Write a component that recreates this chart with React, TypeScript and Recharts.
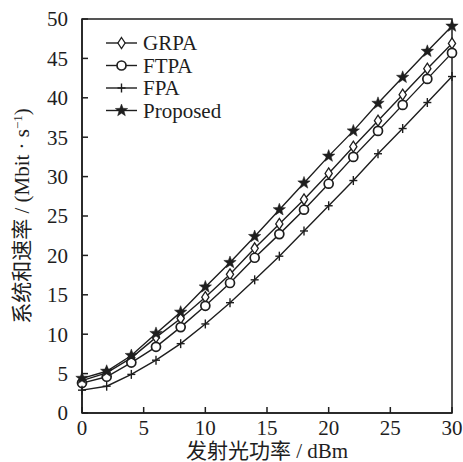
import React from 'react';
import { LineChart, Line, XAxis, YAxis, ReferenceArea, Legend } from 'recharts';

const powerDbm = [0, 2, 4, 6, 8, 10, 12, 14, 16, 18, 20, 22, 24, 26, 28, 30];
const grpa = [4.1, 5.1, 7.0, 9.6, 12.0, 14.7, 17.6, 20.9, 24.0, 27.1, 30.4, 33.8, 37.1, 40.4, 43.7, 46.9];
const ftpa = [3.8, 4.6, 6.4, 8.4, 10.9, 13.6, 16.5, 19.7, 22.7, 25.8, 29.1, 32.5, 35.8, 39.1, 42.4, 45.7];
const fpa = [2.9, 3.4, 4.9, 6.7, 8.8, 11.3, 14.0, 16.9, 19.9, 23.1, 26.3, 29.5, 32.9, 36.1, 39.4, 42.7];
const proposed = [4.4, 5.3, 7.3, 10.1, 12.8, 16.0, 19.1, 22.4, 25.8, 29.2, 32.6, 35.8, 39.3, 42.6, 45.9, 49.1];

const xTicks = [0, 5, 10, 15, 20, 25, 30];
const yTicks = [0, 5, 10, 15, 20, 25, 30, 35, 40, 45, 50];
const seriesNames = ['GRPA', 'FTPA', 'FPA', 'Proposed'];

const data = powerDbm.map((p, i) => ({
  p,
  GRPA: grpa[i],
  FTPA: ftpa[i],
  FPA: fpa[i],
  Proposed: proposed[i],
}));

const INK = '#1e1e1e';
const SERIF = '"Liberation Serif", "Noto Sans CJK SC", serif';

function Marker({ kind, cx, cy }: { kind: string; cx: number; cy: number }) {
  if (kind === 'GRPA') {
    return (
      <polygon
        points={`${cx},${cy - 5.5} ${cx + 3.6},${cy} ${cx},${cy + 5.5} ${cx - 3.6},${cy}`}
        fill="#fff"
        stroke={INK}
        strokeWidth={1.3}
      />
    );
  }
  if (kind === 'FTPA') {
    return <circle cx={cx} cy={cy} r={4.5} fill="#fff" stroke={INK} strokeWidth={1.7} />;
  }
  if (kind === 'FPA') {
    return (
      <g stroke={INK} strokeWidth={1.4}>
        <line x1={cx} y1={cy - 4.5} x2={cx} y2={cy + 4.5} />
        <line x1={cx - 4} y1={cy} x2={cx + 4} y2={cy} />
      </g>
    );
  }
  const pts: string[] = [];
  for (let k = 0; k < 10; k++) {
    const r = k % 2 === 0 ? 6.5 : 2.7;
    const a = -Math.PI / 2 + (k * Math.PI) / 5;
    pts.push(`${cx + r * Math.cos(a)},${cy + r * Math.sin(a)}`);
  }
  return <polygon points={pts.join(' ')} fill={INK} stroke={INK} strokeWidth={0.5} />;
}

const makeDot = (kind: string) => (props: any) => {
  const { cx, cy, index } = props;
  if (cx == null || cy == null) return <g key={`${kind}-${index}`} />;
  return (
    <g key={`${kind}-${index}`}>
      <Marker kind={kind} cx={cx} cy={cy} />
    </g>
  );
};

const XTick = (props: any) => {
  const { x, y, payload } = props;
  const axisY = y - 7;
  return (
    <g>
      <line x1={x} y1={axisY} x2={x} y2={axisY - 6} stroke={INK} strokeWidth={1.5} />
      <text x={x} y={y} dy="0.71em" textAnchor="middle" fill={INK} style={{ fontFamily: SERIF, fontSize: 21 }}>
        {payload.value}
      </text>
    </g>
  );
};

const YTick = (props: any) => {
  const { x, y, payload } = props;
  const axisX = x + 14;
  return (
    <g>
      <line x1={axisX} y1={y} x2={axisX + 6} y2={y} stroke={INK} strokeWidth={1.5} />
      <text x={x} y={y} dy="0.35em" textAnchor="end" fill={INK} style={{ fontFamily: SERIF, fontSize: 21 }}>
        {payload.value}
      </text>
    </g>
  );
};

const XLabel = (props: any) => {
  const vb = props.viewBox || {};
  const cx = vb.x + vb.width / 2;
  return (
    <text x={cx} y={458} textAnchor="middle" fill={INK} style={{ fontFamily: SERIF, fontSize: 21 }}>
      发射光功率 / dBm
    </text>
  );
};

const YLabel = (props: any) => {
  const vb = props.viewBox || {};
  const cy = vb.y + vb.height / 2;
  const cx = 29;
  return (
    <text
      x={cx}
      y={cy}
      transform={`rotate(-90, ${cx}, ${cy})`}
      textAnchor="middle"
      fill={INK}
      style={{ fontFamily: SERIF, fontSize: 21 }}
    >
      系统和速率 / (Mbit · s
      <tspan dy={-7} style={{ fontSize: 13 }}>
        −1
      </tspan>
      <tspan dy={7}>)</tspan>
    </text>
  );
};

const LegendContent = () => (
  <svg width={170} height={100} style={{ display: 'block', overflow: 'visible' }}>
    {seriesNames.map((name, i) => {
      const cy = 13 + i * 22.5;
      return (
        <g key={name}>
          <line x1={6} y1={cy} x2={37} y2={cy} stroke={INK} strokeWidth={1.4} />
          <Marker kind={name} cx={21.5} cy={cy} />
          <text x={43} y={cy} dy="0.35em" fill={INK} style={{ fontFamily: SERIF, fontSize: 21 }}>
            {name}
          </text>
        </g>
      );
    })}
  </svg>
);

export default function App() {
  return (
    <div style={{ position: 'absolute', left: 0, top: 0, background: '#fff' }}>
      <LineChart width={463} height={462} data={data} margin={{ top: 19, right: 11, bottom: 0, left: 0 }}>
        <XAxis
          dataKey="p"
          type="number"
          domain={[0, 30]}
          ticks={xTicks}
          tickSize={0}
          tickMargin={7}
          tickLine={false}
          tick={<XTick />}
          axisLine={{ stroke: INK, strokeWidth: 1.5 }}
          height={49}
          label={<XLabel />}
        />
        <YAxis
          type="number"
          domain={[0, 50]}
          ticks={yTicks}
          tickSize={0}
          tickMargin={14}
          tickLine={false}
          tick={<YTick />}
          axisLine={{ stroke: INK, strokeWidth: 1.5 }}
          width={82}
          label={<YLabel />}
        />
        <ReferenceArea x1={0} x2={30} y1={0} y2={50} fill="none" stroke={INK} strokeWidth={1.5} ifOverflow="visible" />
        {seriesNames.map((name) => (
          <Line
            key={name}
            dataKey={name}
            stroke={INK}
            strokeWidth={1.4}
            dot={makeDot(name)}
            activeDot={false}
            isAnimationActive={false}
          />
        ))}
        <Legend
          layout="vertical"
          align="center"
          verticalAlign="middle"
          content={<LegendContent />}
          wrapperStyle={{ left: 100, top: 30, width: 170, height: 100 }}
        />
      </LineChart>
    </div>
  );
}
